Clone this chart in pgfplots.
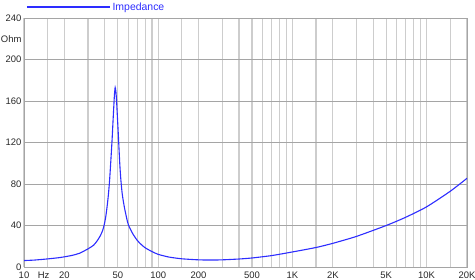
\documentclass[border=0pt]{standalone}
\usepackage{pgfplots}
\pgfplotsset{compat=1.18}
\usepackage{fontspec}
\setmainfont{Liberation Sans}
\definecolor{curve}{RGB}{45,45,255}
\definecolor{gridv}{RGB}{205,205,205}
\definecolor{gridh}{RGB}{165,165,165}
\definecolor{txt}{RGB}{40,40,40}
\begin{document}
\begin{tikzpicture}
\begin{axis}[
  scale only axis,
  width=443bp, height=249bp,
  xmode=log, log basis x=10,
  xmin=10, xmax=20000, ymin=0, ymax=240,
  font=\fontsize{9.5}{11}\selectfont,
  /pgf/number format/assume math mode=true,
  tick label style={text=txt},
  xtick={10,20,50,100,200,500,1000,2000,5000,10000,20000},
  xticklabels={10,20,50,100,200,500,1K,2K,5K,10K,20K},
  minor xtick={15,30,40,60,70,80,90,150,300,400,600,700,800,900,1500,3000,4000,6000,7000,8000,9000,15000},
  extra x ticks={14},
  extra x tick labels={Hz},
  extra x tick style={grid=none, major tick length=0pt},
  ytick={0,40,80,120,160,200,240},
  extra y ticks={220},
  extra y tick labels={Ohm},
  extra y tick style={grid=none, major tick length=0pt},
  major tick length=0pt, minor tick length=0pt,
  xmajorgrids, xminorgrids, ymajorgrids,
  x grid style={gridv, line width=1.3bp},
  minor x grid style={gridv, line width=1.3bp},
  y grid style={gridh, line width=0.7bp},
  axis line style={gridh, line width=0.8bp},
  xticklabel style={yshift=-1bp},
  yticklabel style={xshift=1bp},
  legend style={at={(rel axis cs:0.004,1)}, anchor=south west, yshift=4bp, draw=none, fill=none,
    inner sep=0pt, font=\fontsize{10.5}{12}\selectfont, text=curve},
  legend image code/.code={\draw[#1, line width=1.6bp] (0bp,0bp) -- (83bp,0bp);},
  legend cell align=left,
]
\addplot[curve, line width=1.1bp, smooth, tension=0.4] table {
x y
10 6.2
12 6.7
15 7.8
18 8.9
20 9.8
23 11.3
26 13.3
30 17.5
33 21.0
35 25.0
37 30.0
38.5 35.0
39.5 40.0
40.5 47.0
41.5 57.0
42.5 69.0
43.4 83.0
44.3 101.0
45.3 122.0
46.0 139.0
46.6 153.0
47.2 166.0
47.8 173.0
48.4 169.0
49.0 159.0
49.6 146.0
50.3 131.0
51.0 115.0
51.8 98.0
52.7 84.0
54.0 70.0
55.9 58.0
58.0 48.0
60 40.5
65 31.5
70 25.5
75 21.5
80 18.5
90 14.8
100 12.2
120 9.6
150 7.9
200 6.9
250 6.7
300 6.9
400 7.7
500 8.7
700 11.0
1000 14.5
1500 18.8
2000 22.8
3000 29.5
5000 40.0
7000 48.0
10000 58.0
15000 73.0
20000 85.5
};
\addlegendentry{Impedance}
\coordinate (sw) at (rel axis cs:0,0);
\coordinate (ne) at (rel axis cs:1,1);
\end{axis}
\pgfresetboundingbox
\path ([shift={(-24bp,-13bp)}]sw) rectangle ([shift={(8bp,18bp)}]ne);
\end{tikzpicture}
\end{document}
